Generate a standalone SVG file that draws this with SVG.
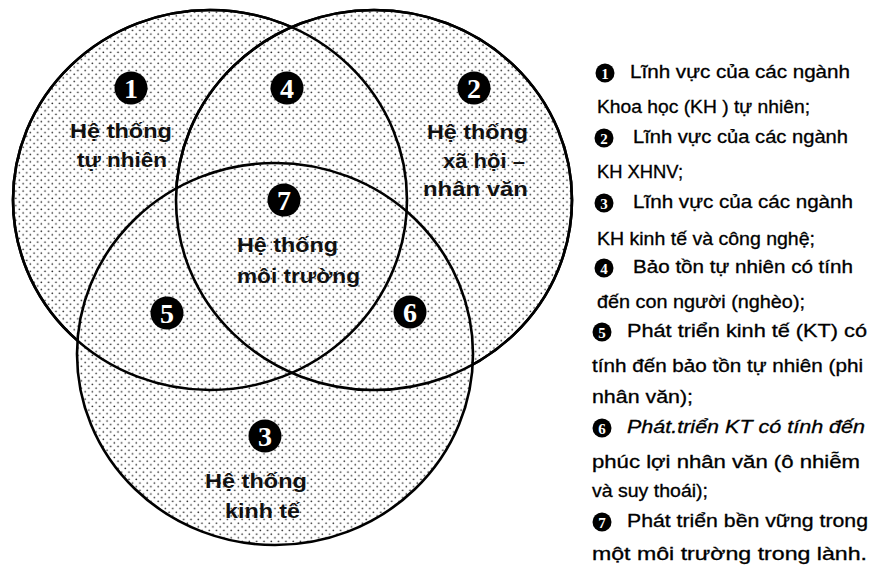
<svg xmlns="http://www.w3.org/2000/svg" width="874" height="568" viewBox="0 0 874 568">
<style>
.ring{fill:url(#dots);stroke:#000;stroke-width:2.6}
.mk{fill:#000}
.mn{fill:#fff;font-family:"Liberation Serif",serif;font-weight:bold;font-size:28px;text-anchor:middle}
.lb{fill:#111;font-family:"Liberation Sans",Arial,sans-serif;font-weight:bold;font-size:19.5px}
.lg{fill:#000;stroke:#000;stroke-width:0.3;font-family:"Liberation Sans",Arial,sans-serif;font-size:17.5px}
.sm{fill:#fff;font-family:"Liberation Serif",serif;font-weight:bold;font-size:15px;text-anchor:middle}
</style>
<defs>
<pattern id="dots" patternUnits="userSpaceOnUse" width="7.3" height="7.3">
<rect width="7.3" height="7.3" fill="#fff"/>
<circle cx="1.2" cy="1.2" r="0.85" fill="#222"/>
<circle cx="4.85" cy="4.85" r="0.85" fill="#222"/>
</pattern>
</defs>
<rect width="874" height="568" fill="#fff"/>
<g id="circles">
<ellipse id="c1" class="ring" cx="210" cy="200" rx="197" ry="190"/>
<ellipse id="c2" class="ring" cx="374" cy="200" rx="198" ry="190"/>
<ellipse id="c3" class="ring" cx="275" cy="354" rx="198" ry="191"/>
<ellipse class="ring" cx="210" cy="200" rx="197" ry="190" style="fill:none"/>
<ellipse class="ring" cx="374" cy="200" rx="198" ry="190" style="fill:none"/>
</g>
<g id="n1"><circle class="mk" cx="131" cy="88" r="16.5"/><text class="mn" x="131" y="98">1</text>
<g transform="scale(1.22,1)">
<text class="lb" x="57.38" y="138" textLength="83.6" lengthAdjust="spacingAndGlyphs">Hệ thống</text>
<text class="lb" x="63.11" y="167" textLength="73.77" lengthAdjust="spacingAndGlyphs">tự nhiên</text></g></g>
<g id="n2"><circle class="mk" cx="474" cy="88" r="16.5"/><text class="mn" x="474" y="98">2</text>
<g transform="scale(1.22,1)">
<text class="lb" x="350" y="139" textLength="82.79" lengthAdjust="spacingAndGlyphs">Hệ thống</text>
<text class="lb" x="363.11" y="168" textLength="67.21" lengthAdjust="spacingAndGlyphs">xã hội –</text>
<text class="lb" x="346.72" y="196" textLength="86.07" lengthAdjust="spacingAndGlyphs">nhân văn</text></g></g>
<g id="n3"><circle class="mk" cx="265" cy="436" r="16.5"/><text class="mn" x="265" y="446">3</text>
<g transform="scale(1.22,1)">
<text class="lb" x="168.03" y="488" textLength="83.6" lengthAdjust="spacingAndGlyphs">Hệ thống</text>
<text class="lb" x="184.43" y="518" textLength="61.48" lengthAdjust="spacingAndGlyphs">kinh tế</text></g></g>
<g id="n4"><circle class="mk" cx="287" cy="88" r="16.5"/><text class="mn" x="287" y="98">4</text></g>
<g id="n5"><circle class="mk" cx="167" cy="313" r="16.5"/><text class="mn" x="167" y="323">5</text></g>
<g id="n6"><circle class="mk" cx="410" cy="312" r="16.5"/><text class="mn" x="410" y="322">6</text></g>
<g id="n7"><circle class="mk" cx="284" cy="200" r="16.5"/><text class="mn" x="284" y="210">7</text>
<g transform="scale(1.22,1)">
<text class="lb" x="194.26" y="252" textLength="82.79" lengthAdjust="spacingAndGlyphs">Hệ thống</text>
<text class="lb" x="194.26" y="283" textLength="100.82" lengthAdjust="spacingAndGlyphs">môi trường</text></g></g>
<g id="connectors"></g>
<g id="legend">
<circle class="mk" cx="605" cy="73" r="9.5"/><text class="sm" x="605" y="78.5">1</text>
<circle class="mk" cx="604" cy="138" r="9.5"/><text class="sm" x="604" y="143.5">2</text>
<circle class="mk" cx="604" cy="203" r="9.5"/><text class="sm" x="604" y="208.5">3</text>
<circle class="mk" cx="604" cy="268" r="9.5"/><text class="sm" x="604" y="273.5">4</text>
<circle class="mk" cx="602" cy="332" r="9.5"/><text class="sm" x="602" y="337.5">5</text>
<circle class="mk" cx="602" cy="428" r="9.5"/><text class="sm" x="602" y="433.5">6</text>
<circle class="mk" cx="602" cy="522" r="9.5"/><text class="sm" x="602" y="527.5">7</text>
<g transform="scale(1.2,1)">
<text class="lg" x="525" y="78" textLength="183.33" lengthAdjust="spacingAndGlyphs">Lĩnh vực của các ngành</text>
<text class="lg" x="497.5" y="113" textLength="177.5" lengthAdjust="spacingAndGlyphs">Khoa học (KH ) tự nhiên;</text>
<text class="lg" x="527.5" y="143" textLength="179.17" lengthAdjust="spacingAndGlyphs">Lĩnh vực của các ngành</text>
<text class="lg" x="497.5" y="178" textLength="71.67" lengthAdjust="spacingAndGlyphs">KH XHNV;</text>
<text class="lg" x="527.5" y="208" textLength="183.33" lengthAdjust="spacingAndGlyphs">Lĩnh vực của các ngành</text>
<text class="lg" x="497.5" y="245" textLength="181.67" lengthAdjust="spacingAndGlyphs">KH kinh tế và công nghệ;</text>
<text class="lg" x="527.5" y="273" textLength="183.33" lengthAdjust="spacingAndGlyphs">Bảo tồn tự nhiên có tính</text>
<text class="lg" x="497.5" y="308" textLength="173.33" lengthAdjust="spacingAndGlyphs">đến con người (nghèo);</text>
<text class="lg" x="522.5" y="337" textLength="200" lengthAdjust="spacingAndGlyphs">Phát triển kinh tế (KT) có</text>
<text class="lg" x="493.33" y="372" textLength="225.83" lengthAdjust="spacingAndGlyphs">tính đến bảo tồn tự nhiên (phi</text>
<text class="lg" x="493.33" y="403" textLength="84.17" lengthAdjust="spacingAndGlyphs">nhân văn);</text>
<text class="lg" x="522.5" y="433" textLength="198.33" lengthAdjust="spacingAndGlyphs" font-style="italic">Phát.triển KT có tính đến</text>
<text class="lg" x="493.33" y="468" textLength="223.33" lengthAdjust="spacingAndGlyphs">phúc lợi nhân văn (ô nhiễm</text>
<text class="lg" x="493.33" y="497" textLength="96.67" lengthAdjust="spacingAndGlyphs">và suy thoái);</text>
<text class="lg" x="522.5" y="527" textLength="200.83" lengthAdjust="spacingAndGlyphs">Phát triển bền vững trong</text>
<text class="lg" x="493.33" y="560" textLength="229.17" lengthAdjust="spacingAndGlyphs">một môi trường trong lành.</text>
</g>
</g>
</svg>
